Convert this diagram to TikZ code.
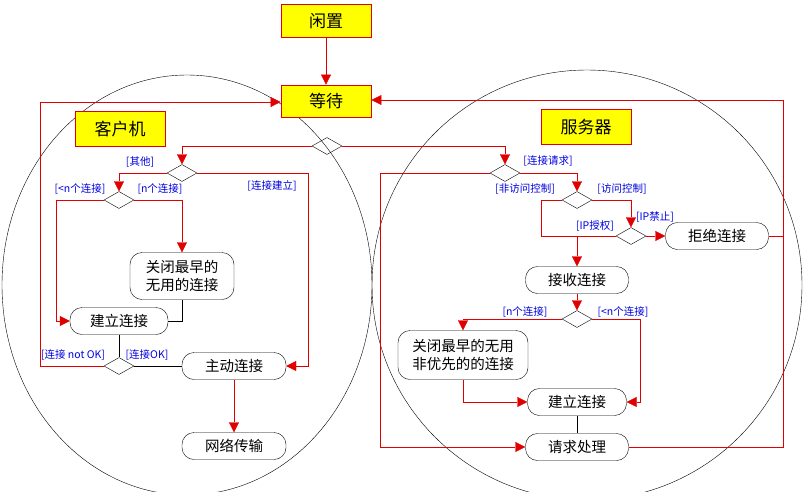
\documentclass[tikz,border=0pt]{standalone}
\usepackage{fontspec}
\newfontfamily\cjk{Noto Sans CJK SC}
\usetikzlibrary{shapes.geometric,arrows.meta}
\definecolor{boxfill}{HTML}{FFFF00}
\definecolor{flow}{HTML}{E00000}
\definecolor{guard}{HTML}{0000E0}
\tikzset{
	state/.style={draw, fill=boxfill, draw=flow, thick, font=\cjk\fontsize{17}{19}\selectfont, minimum width=90pt, minimum height=33pt, inner sep=0pt},
	act/.style={draw, rounded corners=12pt, font=\cjk\fontsize{14.5}{18}\selectfont, align=center, minimum height=27pt, inner sep=2pt},
	dec/.style={draw, diamond, aspect=1.8, minimum width=30pt, minimum height=17pt, inner sep=0pt},
	lbl/.style={text=guard, font=\cjk\fontsize{10.5}{11}\selectfont, inner sep=0pt},
	go/.style={draw=flow, -{Triangle[length=10pt,width=10pt]}},
	ln/.style={draw=flow},
}
\begin{document}
\begin{tikzpicture}[x=1pt, y=-1pt]
	\useasboundingbox (0,0) rectangle (806,491);
	\begin{scope}
		\clip (0,0) rectangle (806,491);
		\draw (187,285) ellipse[x radius=185, y radius=210];
		\draw (587,285) circle[radius=215];
	\end{scope}
	\node[state] (idle) at (326,21) {闲置};
	\node[state, minimum height=32pt] (wait) at (326,101) {等待};
	\node[state, minimum height=35pt] (client) at (120,129) {客户机};
	\node[state, minimum height=35pt] (server) at (586,127) {服务器};
	\draw[go] (idle) -- (wait);
	% client side
	\node[dec] (d0) at (327,146) {};
	\node[dec] (d1) at (182,173) {};
	\node[dec] (d2) at (119,200) {};
	\node[dec] (d3) at (119,366) {};
	\node[act, minimum width=104pt, minimum height=47pt] (close) at (182,276) {关闭最早的\\无用的连接};
	\node[act, minimum width=98pt] (build) at (119,321) {建立连接};
	\node[act, minimum width=104pt] (active) at (234,366) {主动连接};
	\node[act, minimum width=104pt] (net) at (234,446) {网络传输};
	\draw[go] (d0.west) -| (d1.north);
	\draw[go] (d1.west) -| (d2.north);
	\draw[go] (d1.east) -- (308,173) |- (active.east);
	\draw[go] (d2.west) -- (56,200) |- (build.west);
	\draw[go] (d2.east) -| (close.north);
	\draw (close.south) |- (build.east);
	\draw (build.south) -- (d3.north);
	\draw (d3.east) -- (active.west);
	\draw[go] (d3.west) -- (40,366) |- (wait.west |- 0,102);
	\draw[go] (active.south) -- (net.north);
	\node[lbl] at (140,162) {[其他]};
	\node[lbl] at (272,186) {[连接建立]};
	\node[lbl] at (80,189) {[<n个连接]};
	\node[lbl] at (160,189) {[n个连接]};
	\node[lbl] at (73,355) {[连接 not OK]};
	\node[lbl] at (147,355) {[连接OK]};
	% server side
	\node[dec] (s1) at (505,173) {};
	\node[dec] (s2) at (577,200) {};
	\node[dec] (s3) at (631,236) {};
	\node[dec] (s4) at (577,319) {};
	\node[act, minimum width=103pt] (deny) at (717,236) {拒绝连接};
	\node[act, minimum width=103pt] (accept) at (577,280) {接收连接};
	\node[act, minimum width=130pt, minimum height=49pt] (close2) at (463,355) {关闭最早的无用\\非优先的的连接};
	\node[act, minimum width=99pt] (build2) at (577,402) {建立连接};
	\node[act, minimum width=103pt] (handle) at (577,447) {请求处理};
	\coordinate (join) at (577,236);
	\draw[go] (d0.east) -| (s1.north);
	\draw[go] (s1.east) -| (s2.north);
	\draw[go] (s1.west) -- (380,173) |- (handle.west);
	\draw[go] (s2.east) -| (s3.north);
	\draw[ln] (s2.west) -- (541,200) |- (join);
	\draw[ln] (s3.west) -- (join);
	\draw[go] (join) -- (accept.north);
	\draw[go] (s3.east) -- (deny.west);
	\draw[ln] (deny.east) -- (783,236);
	\draw[go] (handle.east) -- (783,447) |- (wait.east |- 0,100);
	\draw[go] (accept.south) -- (s4.north);
	\draw[go] (s4.west) -| (close2.north);
	\draw[go] (s4.east) -- (640,319) |- (build2.east);
	\draw[go] (close2.south) |- (build2.west);
	\draw (build2.south) -- (handle.north);
	\node[lbl] at (548,161) {[连接请求]};
	\node[lbl] at (525,189) {[非访问控制]};
	\node[lbl] at (622,189) {[访问控制]};
	\node[lbl] at (655,217) {[IP禁止]};
	\node[lbl] at (595,226) {[IP授权]};
	\node[lbl] at (525,312) {[n个连接]};
	\node[lbl] at (623,312) {[<n个连接]};
\end{tikzpicture}
\end{document}
